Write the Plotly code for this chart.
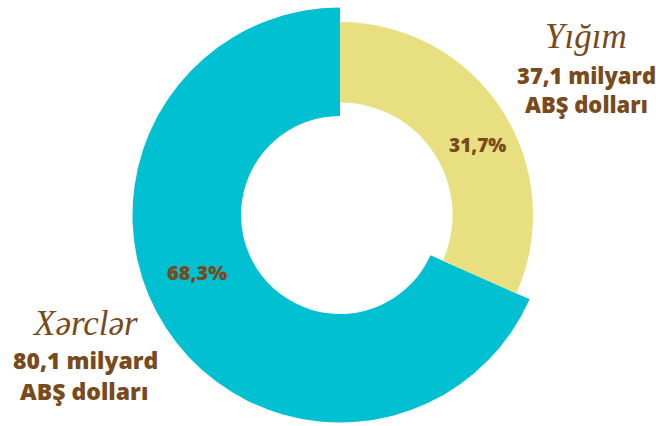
import plotly.graph_objects as go

# Data
categories = ["Yığım", "Xərclər"]
values_bn = [37.1, 80.1]          # milyard ABŞ dolları
amount_labels = ["37,1 milyard", "80,1 milyard"]
unit_label = "ABŞ dolları"

colors = ["rgb(232,224,128)", "rgb(0,192,209)"]
brown = "rgb(120,74,28)"
clear = "rgba(0,0,0,0)"

W, H = 656, 426
CX, CY = 340, 215  # donut centre in pixels


def domain(r):
    return dict(x=[(CX - r) / W, (CX + r) / W], y=[1 - (CY + r) / H, 1 - (CY - r) / H])


total = sum(values_bn)
pct = [v / total * 100 for v in values_bn]
pct_txt = [f"{p:.1f}".replace(".", ",") + "%" for p in pct]

fig = go.Figure()
# Teal ring (Xərclər) - larger/thicker ring
fig.add_trace(go.Pie(
    labels=categories, values=values_bn, sort=False, direction="clockwise", rotation=0,
    hole=99 / 207.5, domain=domain(207.5),
    marker=dict(colors=[clear, colors[1]], line=dict(width=0)),
    textinfo="none", hoverinfo="skip", showlegend=False,
))
# Yellow ring (Yığım)
fig.add_trace(go.Pie(
    labels=categories, values=values_bn, sort=False, direction="clockwise", rotation=0,
    hole=112.5 / 193, domain=domain(193),
    marker=dict(colors=[colors[0], clear], line=dict(width=0)),
    textinfo="none", hoverinfo="skip", showlegend=False,
))

bold_font = "Open Sans"
serif_font = "Liberation Serif"


def bfont(size):
    return dict(family=bold_font, size=size, color=brown, weight=800)


def ifont(size):
    return dict(family=serif_font, size=size, color=brown, style="italic")


ann = []
# percent labels
ann.append(dict(x=477 / W, y=1 - 145 / H, text=pct_txt[0], font=bfont(19)))
ann.append(dict(x=197 / W, y=1 - 272 / H, text=pct_txt[1], font=bfont(20)))
# right label block
ann.append(dict(x=586 / W, y=1 - 36 / H, text=categories[0], font=ifont(35)))
ann.append(dict(x=586 / W, y=1 - 75 / H, text=amount_labels[0], font=bfont(22)))
ann.append(dict(x=586 / W, y=1 - 104 / H, text=unit_label, font=bfont(22)))
# left label block
ann.append(dict(x=85 / W, y=1 - 323 / H, text=categories[1], font=ifont(35)))
ann.append(dict(x=85 / W, y=1 - 360 / H, text=amount_labels[1], font=bfont(23)))
ann.append(dict(x=84 / W, y=1 - 391 / H, text=unit_label, font=bfont(23)))

for a in ann:
    a.update(xref="paper", yref="paper", xanchor="center", yanchor="middle", showarrow=False)

fig.update_layout(
    width=W, height=H, margin=dict(l=0, r=0, t=0, b=0),
    paper_bgcolor="white", plot_bgcolor="white",
    annotations=ann,
)

fig.write_html("out.html", config={"displayModeBar": False},
               post_script="document.body.style.margin='0px';")
